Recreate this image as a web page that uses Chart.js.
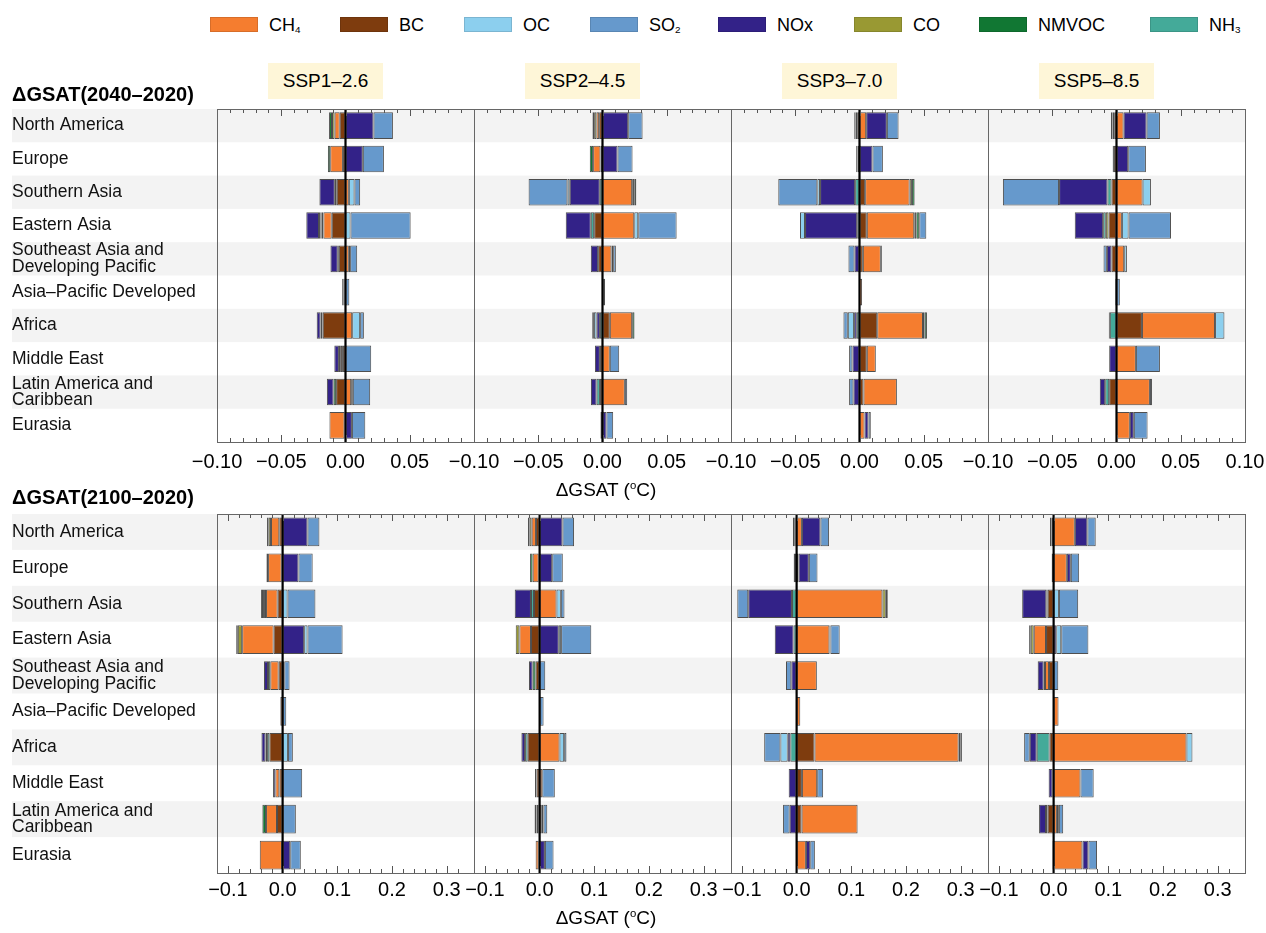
<!DOCTYPE html>
<html><head><meta charset="utf-8">
<script src="https://cdn.jsdelivr.net/npm/chart.js@4.4.1/dist/chart.umd.min.js"></script>
<style>
html,body{margin:0;padding:0;background:#fff}
#root{position:relative;width:1266px;height:933px;overflow:hidden;font-family:'Liberation Sans',Arial,Helvetica,sans-serif;color:#000}
#root canvas{position:absolute}
.t{position:absolute;white-space:nowrap;line-height:1}
.sw{position:absolute;width:48px;height:15px;top:17px;box-sizing:border-box;border:1px solid rgba(0,0,0,0.12)}
.lg{position:absolute;top:16px;font-size:18px;line-height:1;white-space:nowrap}
.ssp{position:absolute;top:63px;height:36px;width:115px;background:#fef6d8;font-size:19px;display:flex;align-items:center;justify-content:center}
.lg sub{font-size:55%;vertical-align:baseline;position:relative;top:0.25em}
.ax sup{font-size:60%;vertical-align:baseline;position:relative;top:-0.6em}
</style></head>
<body><div id="root"></div>
<script>
// ---------- labels ----------
const regions = [['North America'], ['Europe'], ['Southern Asia'], ['Eastern Asia'],
  ['Southeast Asia and', 'Developing Pacific'], ['Asia–Pacific Developed'], ['Africa'],
  ['Middle East'], ['Latin America and', 'Caribbean'], ['Eurasia']];
const scenarios = ['SSP1–2.6', 'SSP2–4.5', 'SSP3–7.0', 'SSP5–8.5'];
const periodTitles = ['ΔGSAT(2040–2020)', 'ΔGSAT(2100–2020)'];
const axisTitle = 'ΔGSAT (<sup>o</sup>C)';
// stacking order (from zero outward)
const speciesStack = ['BC', 'CH4', 'CO', 'NH3', 'NMVOC', 'NOx', 'OC', 'SO2'];
const speciesColors = ['#7e3c0e', '#f57d2f', '#999933', '#44aa99', '#117733', '#332288', '#8ccfee', '#6699cc'];
const legendOrder = ['CH4', 'BC', 'OC', 'SO2', 'NOx', 'CO', 'NMVOC', 'NH3'];
const legendLabels = ['CH<sub>4</sub>', 'BC', 'OC', 'SO<sub>2</sub>', 'NOx', 'CO', 'NMVOC', 'NH<sub>3</sub>'];
const tickValues2040 = [-0.10, -0.05, 0, 0.05, 0.10];
const tickLabels2040 = ['−0.10', '−0.05', '0.00', '0.05', '0.10'];
const tickValues2100 = [-0.1, 0, 0.1, 0.2, 0.3];
const tickLabels2100 = ['−0.1', '0.0', '0.1', '0.2', '0.3'];

// ---------- values (°C), rows: BC, CH4, CO, NH3, NMVOC, NOx, OC, SO2 ; columns: regions ----------
const ssp126_2040 = [
  [-0.0045, -0.002, -0.0068, -0.0107, -0.0052, -0.0008, -0.0177, -0.002, -0.0073, -0.0008],
  [-0.004, -0.0099, 0.0026, -0.0065, 0.0026, -0.0006, 0.0052, -0.0016, 0.0044, -0.0117],
  [-0.002, 0, 0, -0.0013, 0, 0, 0, 0, 0, 0],
  [0, 0, 0, -0.0008, 0, 0, -0.0005, 0, 0, 0],
  [-0.0023, -0.0018, -0.0015, -0.0013, -0.0008, 0, -0.0012, -0.0015, -0.002, 0],
  [0.0218, 0.0135, -0.012, -0.0099, -0.0057, -0.0012, -0.003, -0.0036, -0.0052, 0.005],
  [0, 0, 0.0044, 0.0039, 0.001, 0, 0.0062, 0, 0.0013, 0],
  [0.0151, 0.0164, 0.0044, 0.0468, 0.0055, 0.003, 0.0029, 0.02, 0.0135, 0.0104]
];
const ssp245_2040 = [
  [-0.0026, -0.0016, 0, -0.0065, -0.0034, -0.0005, 0.0057, -0.002, -0.002, -0.0016],
  [-0.0021, -0.0057, 0.0231, 0.0247, 0.007, 0.0005, 0.0174, 0.0057, 0.0174, 0],
  [-0.0018, 0, 0.0016, 0, 0, 0, 0, 0, 0, 0],
  [0, 0, -0.0021, -0.0026, 0, 0, -0.002, 0, -0.0026, 0],
  [-0.0013, -0.0026, 0.0016, 0, 0, 0, 0.0018, 0, 0, 0],
  [0.02, 0.0117, -0.0234, -0.0195, -0.0057, 0, -0.0026, -0.0039, -0.0044, 0.0031],
  [0, 0, -0.0018, 0.0031, 0.0013, 0, -0.0021, 0, 0, 0],
  [0.0112, 0.0117, -0.0302, 0.0299, 0.0021, 0.0015, -0.0013, 0.0073, 0.0018, 0.0052]
];
const ssp370_2040 = [
  [-0.0018, -0.0015, 0.0044, 0.0057, 0.0026, 0, 0.0138, 0.0057, 0.0031, 0],
  [0.0052, 0, 0.0346, 0.0369, 0.014, 0.002, 0.0356, 0.007, 0.026, 0.0039],
  [-0.0013, 0, 0.0018, 0.0016, 0, 0, 0.0013, 0, 0, 0],
  [0, 0, -0.0034, -0.0018, 0, 0, -0.0021, 0, 0, 0],
  [-0.001, -0.0011, 0.0021, 0.0023, 0.0008, 0, 0.0018, 0, 0, 0],
  [0.0161, 0.0101, -0.0273, -0.0406, -0.0039, 0, -0.0021, -0.0055, -0.0047, 0.0031],
  [0, 0, -0.0021, -0.0039, 0, 0, -0.0049, 0, 0, 0],
  [0.0091, 0.0081, -0.0304, 0.0055, -0.0047, 0, -0.0034, -0.0026, -0.0034, 0.0018]
];
const ssp585_2040 = [
  [-0.0018, -0.002, -0.0039, -0.0062, -0.0039, -0.0005, 0.0198, 0, -0.0057, 0],
  [0.0055, 0, 0.0203, 0.0042, 0.006, 0, 0.0569, 0.0151, 0.026, 0.0104],
  [-0.0013, 0, 0, -0.0021, 0, 0, 0, 0, 0, 0],
  [0, 0, -0.0031, -0.0021, 0, 0, -0.0052, 0, -0.0031, 0],
  [-0.0013, -0.001, 0, 0, 0, 0, -0.0008, 0, 0, 0],
  [0.0179, 0.0091, -0.0377, -0.0221, -0.0036, -0.0005, 0, -0.0057, -0.0042, 0.0031],
  [0, 0, 0.0065, 0.0052, 0.0021, 0, 0.0073, 0, 0, 0],
  [0.0104, 0.0138, -0.0437, 0.033, -0.0026, 0.0026, 0, 0.0187, 0.0016, 0.0107]
];
const ssp126_2100 = [
  [-0.0061, -0.0018, -0.0091, -0.0164, -0.0073, 0, -0.0242, -0.006, -0.0103, -0.0012],
  [-0.0152, -0.0248, -0.0212, -0.0576, -0.0152, -0.0042, 0, -0.0073, -0.02, -0.0406],
  [-0.0042, 0, 0, -0.0079, 0, 0, 0, 0, 0, 0],
  [0, 0, -0.002, 0, 0, 0, -0.0042, 0, 0, 0],
  [-0.003, -0.003, -0.0035, -0.003, -0.0042, 0, -0.003, 0, -0.0067, 0],
  [0.0455, 0.029, -0.0036, 0.0394, -0.0073, 0, -0.0073, -0.0042, 0, 0.0139],
  [0, 0, 0.009, 0.0061, 0.003, 0, 0.0097, 0, 0, 0],
  [0.0218, 0.026, 0.051, 0.0642, 0.0097, 0.0067, 0.009, 0.0358, 0.0242, 0.0194]
];
const ssp245_2100 = [
  [-0.0067, -0.0018, -0.0103, -0.0158, -0.0073, -0.001, -0.0218, -0.0055, -0.002, -0.0018],
  [-0.0079, -0.0109, 0.0309, -0.0212, 0, 0, 0.0364, 0.0048, 0.004, -0.0055],
  [-0.0042, 0, 0, -0.0067, 0, 0, 0, 0, 0, 0],
  [0, 0, -0.0055, 0, 0, 0, -0.0048, 0, -0.0036, 0],
  [-0.0024, -0.0048, 0, 0, -0.0055, 0, 0, -0.003, 0, 0],
  [0.0418, 0.023, -0.0297, 0.0351, -0.0067, 0, -0.0067, 0, -0.0036, 0.0097],
  [0, 0, 0.0079, 0.0042, 0, 0, 0.0085, 0, 0.003, 0],
  [0.0212, 0.0194, 0.0067, 0.0552, 0.0103, 0.0073, 0.0042, 0.023, 0.007, 0.0158]
];
const ssp370_2100 = [
  [-0.002, -0.003, 0, 0, 0, 0, 0.0327, 0.0097, 0.0091, 0],
  [0.0097, 0.0036, 0.157, 0.06, 0.037, 0.0067, 0.2636, 0.0279, 0.1024, 0.017],
  [-0.0024, 0, 0.0061, 0, 0, 0, 0.003, 0, 0, 0],
  [0, 0, -0.0085, -0.0055, 0, 0, -0.0115, 0, 0, 0],
  [-0.0024, -0.0024, 0.0036, 0.0018, 0, 0, 0.003, 0, 0, 0],
  [0.0339, 0.0188, -0.08, -0.0345, -0.0097, 0, -0.0048, -0.0145, -0.0127, 0.0079],
  [0, 0, 0, 0, 0, 0, -0.0133, 0, 0, 0],
  [0.0158, 0.0158, -0.02, 0.017, -0.0097, 0, -0.0297, 0.0109, -0.0121, 0.0085]
];
const ssp585_2100 = [
  [-0.0036, -0.0036, -0.0109, -0.0139, -0.0085, 0, -0.0073, -0.002, -0.0109, -0.002],
  [0.0388, 0.0242, 0, -0.0224, -0.0073, 0.009, 0.243, 0.0491, 0.006, 0.0527],
  [0, 0, 0, -0.0055, 0, 0, 0, 0, 0, 0],
  [0, 0, 0, 0, 0, 0, -0.0236, 0, 0, 0],
  [-0.003, 0, -0.0024, -0.003, -0.0024, 0, 0, 0, -0.003, 0],
  [0.023, 0.0073, -0.0442, 0.0048, -0.0109, 0, -0.0127, -0.0071, -0.0127, 0.0109],
  [0, 0, 0.0097, 0.0091, 0, 0, 0.0109, 0, 0.0036, 0],
  [0.0152, 0.0152, 0.0352, 0.0497, 0.0085, 0, -0.0103, 0.0242, 0.0079, 0.0158]
];
const panels2040 = [ssp126_2040, ssp245_2040, ssp370_2040, ssp585_2040];
const panels2100 = [ssp126_2100, ssp245_2100, ssp370_2100, ssp585_2100];

// ---------- layout ----------
const root = document.getElementById('root');
const COL_LEFT = [217, 474, 731, 988], PLOT_W = 257;
const ROW_TOP = [109, 514], PLOT_H = [333, 359];
const PAD_TOP = 9, AXIS_H = 38, SIDE = 44, LABEL_LEFT = 12;
const rowCfg = [
  {panels: panels2040, min: -0.1, max: 0.1, step: 0.01, tv: tickValues2040, tl: tickLabels2040, pad: 8},
  {panels: panels2100, min: -0.12, max: 0.35, step: 0.02, tv: tickValues2100, tl: tickLabels2100, pad: 5}
];

Chart.defaults.font.family = "'Liberation Sans', Arial, Helvetica, sans-serif";
Chart.defaults.color = '#000';

const bandPlugin = {
  id: 'bands',
  beforeDraw(chart, args, opts) {
    const {ctx, chartArea: a, scales: {y}} = chart;
    const n = regions.length, h = (a.bottom - a.top) / n;
    const x0 = (opts && opts.x0 != null) ? opts.x0 : a.left;
    ctx.save();
    ctx.fillStyle = '#f3f3f3';
    for (let i = 0; i < n; i += 2) {
      const yc = y.getPixelForValue(i);
      ctx.fillRect(x0, yc - h / 2, a.right - x0, h);
    }
    ctx.restore();
  }
};
const framePlugin = {
  id: 'frame',
  afterDatasetsDraw(chart) {
    const {ctx, chartArea: a, scales: {x}} = chart;
    const px = x.getPixelForValue(0);
    ctx.save();
    ctx.strokeStyle = '#000'; ctx.lineWidth = 2.2;
    ctx.beginPath(); ctx.moveTo(px, a.top); ctx.lineTo(px, a.bottom); ctx.stroke();
    ctx.restore();
  },
  afterDraw(chart) {
    const {ctx, chartArea: a, scales: {x}} = chart;
    ctx.save();
    ctx.strokeStyle = '#555'; ctx.lineWidth = 1;
    x.ticks.forEach(t => {
      const px = Math.round(x.getPixelForValue(t.value)) + 0.5;
      const L = (t.label !== '' && t.label != null) ? 7 : 4;
      ctx.beginPath();
      ctx.moveTo(px, a.bottom); ctx.lineTo(px, a.bottom - L);
      ctx.moveTo(px, a.top); ctx.lineTo(px, a.top + L);
      ctx.stroke();
    });
    ctx.strokeStyle = '#666';
    ctx.strokeRect(Math.round(a.left) + 0.5, Math.round(a.top) + 0.5, Math.round(a.right - a.left), Math.round(a.bottom - a.top));
    ctx.restore();
  }
};

rowCfg.forEach((rc, r) => {
  rc.panels.forEach((panel, c) => {
    const cv = document.createElement('canvas');
    const left = c === 0 ? 0 : COL_LEFT[c] - SIDE;
    const w = c === 0 ? COL_LEFT[0] + PLOT_W + SIDE : PLOT_W + 2 * SIDE;
    const h = PAD_TOP + PLOT_H[r] + AXIS_H;
    cv.width = w; cv.height = h;
    cv.style.left = left + 'px'; cv.style.top = (ROW_TOP[r] - PAD_TOP) + 'px';
    cv.style.width = w + 'px'; cv.style.height = h + 'px';
    root.appendChild(cv);
    const showLast = c === 3;
    new Chart(cv, {
      type: 'bar',
      data: {
        labels: regions,
        datasets: speciesStack.map((sp, k) => ({
          label: sp, data: panel[k], backgroundColor: speciesColors[k],
          borderColor: 'rgba(35,35,35,0.8)', borderWidth: 1, borderSkipped: false,
          barPercentage: 0.8, categoryPercentage: 1
        }))
      },
      options: {
        indexAxis: 'y', responsive: false, animation: false, devicePixelRatio: 1,
        layout: {padding: {left: c === 0 ? LABEL_LEFT : SIDE, right: SIDE, top: PAD_TOP, bottom: 0}},
        plugins: {legend: {display: false}, tooltip: {enabled: false}, bands: {x0: c === 0 ? LABEL_LEFT : null}},
        scales: {
          y: {
            type: 'category', stacked: true, offset: true, display: c === 0,
            grid: {display: false, drawTicks: false}, border: {display: false},
            afterFit: s => { s.width = c === 0 ? COL_LEFT[0] - LABEL_LEFT : 0; },
            ticks: {crossAlign: 'far', padding: 0, color: '#111', font: {size: 17.5, lineHeight: 0.95}, autoSkip: false}
          },
          x: {
            type: 'linear', stacked: true, min: rc.min, max: rc.max,
            grid: {display: false, drawTicks: false}, border: {display: false},
            afterFit: s => { s.height = AXIS_H; },
            ticks: {
              stepSize: rc.step, autoSkip: false, maxRotation: 0, minRotation: 0,
              padding: rc.pad, color: '#000', font: {size: 20},
              callback: v => {
                for (let i = 0; i < rc.tv.length; i++) {
                  if (Math.abs(v - rc.tv[i]) < 1e-6) {
                    if (!showLast && i === rc.tv.length - 1 && r === 0) return '';
                    return rc.tl[i];
                  }
                }
                return '';
              }
            }
          }
        }
      },
      plugins: [bandPlugin, framePlugin]
    });
  });
});

// ---------- HTML text: legend, titles ----------
const swatchLeft = [210, 340, 464, 590, 718, 854, 979, 1150];
legendOrder.forEach((sp, i) => {
  const sw = document.createElement('div');
  sw.className = 'sw'; sw.style.left = swatchLeft[i] + 'px';
  sw.style.background = speciesColors[speciesStack.indexOf(sp)];
  root.appendChild(sw);
  const lb = document.createElement('div');
  lb.className = 'lg'; lb.style.left = (swatchLeft[i] + 59) + 'px';
  lb.innerHTML = legendLabels[i];
  root.appendChild(lb);
});
const sspLeft = [268, 525, 782, 1039];
scenarios.forEach((s, i) => {
  const d = document.createElement('div');
  d.className = 'ssp'; d.style.left = sspLeft[i] + 'px'; d.textContent = s;
  root.appendChild(d);
});
[[84, periodTitles[0]], [487, periodTitles[1]]].forEach(([top, txt]) => {
  const d = document.createElement('div');
  d.className = 't'; d.style.left = '12px'; d.style.top = top + 'px';
  d.style.fontWeight = 'bold'; d.style.fontSize = '20px'; d.textContent = txt;
  root.appendChild(d);
});
[480, 908].forEach(top => {
  const d = document.createElement('div');
  d.className = 't ax'; d.style.left = '506px'; d.style.width = '200px'; d.style.textAlign = 'center';
  d.style.top = top + 'px'; d.style.fontSize = '19px'; d.innerHTML = axisTitle;
  root.appendChild(d);
});
</script></body></html>
